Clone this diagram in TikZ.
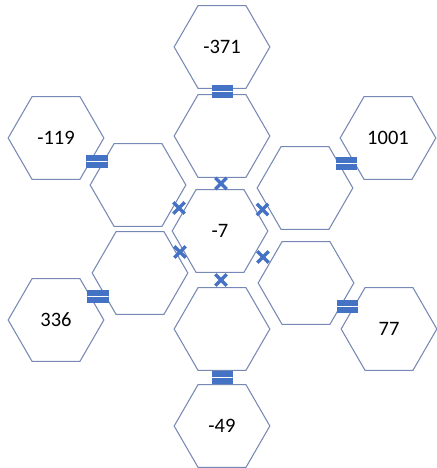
\documentclass[tikz,border=0pt]{standalone}
\usepackage{fontspec}
\setmainfont{Carlito}
\usetikzlibrary{shapes.geometric,shapes.misc,calc}

\definecolor{hexline}{RGB}{118,136,180}
\definecolor{markblue}{RGB}{68,114,196}

\tikzset{
  hexa/.style={regular polygon, regular polygon sides=6, draw=hexline, line width=0.9pt,
    minimum size=2.87cm, inner sep=0pt, font=\fontsize{17.5}{19}\selectfont},
  eqmark/.style={rectangle, fill=markblue, minimum width=0.63cm, minimum height=0.39cm, inner sep=0pt,
    path picture={\draw[white, line width=0.8pt] (path picture bounding box.west) -- (path picture bounding box.east);}},
  xmark/.style={cross out, draw=markblue, line width=2.8pt, minimum size=0.24cm, inner sep=0pt}
}

\begin{document}
\begin{tikzpicture}[x=0.03cm,y=-0.03cm]
        \useasboundingbox (0,0) rectangle (436,468);
        % inner ring
        \node[hexa] (mid) at (220,231) {-7};
        \node[hexa] (top) at (222,136) {};
        \node[hexa] (bot) at (222,329) {};
        \node[hexa] (ul) at (138,185) {};
        \node[hexa] (ll) at (140,273) {};
        \node[hexa] (ur) at (305,188) {};
        \node[hexa] (lr) at (306,283) {};
        % outer ring
        \node[hexa] (ntop) at (222,47) {-371};
        \node[hexa] (nbot) at (222,426) {-49};
        \node[hexa] (nul) at (56,138) {-119};
        \node[hexa] (nll) at (56,320) {336};
        \node[hexa] (nur) at (388,138) {1001};
        \node[hexa] (nlr) at (389,329) {77};
        % equals between outer and inner
        \node[eqmark] (e1) at ($(ntop)!0.5!(top)$) {};
        \node[eqmark] (e2) at ($(nbot)!0.5!(bot)$) {};
        \node[eqmark] (e3) at ($(nul)!0.5!(ul)$) {};
        \node[eqmark] (e4) at ($(nll)!0.5!(ll)$) {};
        \node[eqmark] (e5) at ($(nur)!0.5!(ur)$) {};
        \node[eqmark] (e6) at ($(nlr)!0.5!(lr)$) {};
        % crosses round the middle
        \node[xmark] (x1) at ($(mid)!0.5!(top)$) {};
        \node[xmark] (x2) at ($(mid)!0.5!(bot)$) {};
        \node[xmark] (x3) at ($(mid)!0.5!(ul)$) {};
        \node[xmark] (x4) at ($(mid)!0.5!(ll)$) {};
        \node[xmark] (x5) at ($(mid)!0.5!(ur)$) {};
        \node[xmark] (x6) at ($(mid)!0.5!(lr)$) {};
\end{tikzpicture}
\end{document}
